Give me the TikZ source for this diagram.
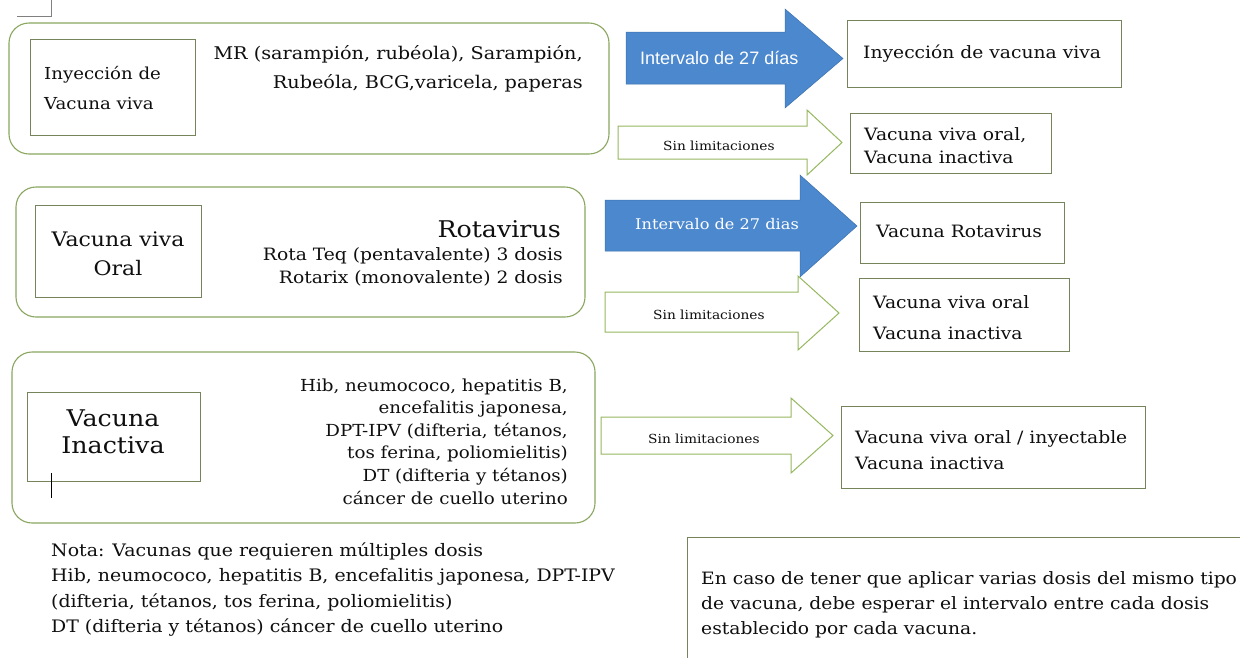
\documentclass[tikz,border=0pt]{standalone}
\usepackage{fontspec}
\setmainfont{DejaVu Serif}[FakeStretch=1.1]
\newfontfamily\arrowsans{Liberation Sans}
\usepackage{tikz}
\definecolor{panelgreen}{RGB}{138,166,96}
\definecolor{boxgreen}{RGB}{118,132,92}
\definecolor{arrowgreen}{RGB}{150,184,96}
\definecolor{arrowblue}{RGB}{76,136,206}
\definecolor{arrowedge}{RGB}{60,112,174}
\definecolor{ink}{RGB}{15,15,15}
\tikzset{
  panel/.style={draw=panelgreen, line width=1.1pt, rounded corners=20pt},
  tagbox/.style={draw=boxgreen, line width=0.9pt},
  bluearrow/.style={fill=arrowblue, draw=arrowedge, line width=0.5pt},
  whitearrow/.style={fill=white, draw=arrowgreen, line width=1pt},
  txt/.style={inner sep=0pt, text=ink}
}
\newcommand{\blockarrow}[8]{
    % Draw the arrow body and head
    \filldraw[#1] (#2,#5) -- (#3,#5) -- (#3,#7) -- (#4,{(#7+#8)/2}) -- (#3,#8) -- (#3,#6) -- (#2,#6) -- cycle;
}

\begin{document}
\begin{tikzpicture}[x=1pt, y=-1pt, font=\fontsize{17}{29}\selectfont]
  \useasboundingbox (0,0) rectangle (1240,657);
  \clip (0,0) rectangle (1240,657);
  \fill[white] (0,0) rectangle (1240,657);

  % Corner mark of the page
  \draw[gray, line width=0.6pt] (17,16) -- (51,16) -- (51,0);

  % Row 1: live injected vaccine
  \draw[panel] (9,23) rectangle (609,154);
  \draw[tagbox] (30,39) rectangle (195,135);
  \node[txt, anchor=west, align=left, font=\fontsize{16.5}{30}\selectfont] (inyviva) at (44,88) {Inyección de\\Vacuna viva};
  \node[txt, anchor=east, align=right, font=\fontsize{17.5}{29}\selectfont] (inylist) at (583,68.5) {MR (sarampión, rubéola), Sarampión,\\Rubeóla, BCG,varicela, paperas};

  \blockarrow{bluearrow}{626}{785}{843}{32}{84}{9}{108}
  \node[txt, anchor=west, text=white, font=\arrowsans\fontsize{18}{20}\selectfont] (int1) at (640,58) {Intervalo de 27 días};
  \draw[tagbox] (847,20) rectangle (1121,87);
  \node[txt, anchor=west] (inyres) at (863,54) {Inyección de vacuna viva};

  \blockarrow{whitearrow}{618}{807}{842}{126}{159}{110}{175}
  \node[txt, anchor=west, font=\fontsize{12.5}{14}\selectfont] (sin1) at (663,146) {Sin limitaciones};
  \draw[tagbox] (850,113) rectangle (1051,173);
  \node[txt, anchor=west, align=left, font=\fontsize{17}{23}\selectfont] (sinres1) at (864,146) {Vacuna viva oral,\\Vacuna inactiva};

  % Row 2: live oral vaccine
  \draw[panel] (16,187) rectangle (585,317);
  \draw[tagbox] (35,205) rectangle (201,297);
  \node[txt, align=center, font=\fontsize{20}{29}\selectfont] (oral) at (118,254) {Vacuna viva\\Oral};
  \node[txt, anchor=east, font=\fontsize{23}{26}\selectfont] (rota) at (561,229) {Rotavirus};
  \node[txt, anchor=east, align=right, font=\fontsize{17}{23}\selectfont] (rotalist) at (563,267) {Rota Teq (pentavalente) 3 dosis\\Rotarix (monovalente) 2 dosis};

  \blockarrow{bluearrow}{605}{800}{857}{200}{251}{175}{277}
  \node[txt, anchor=west, text=white, font=\fontsize{14.7}{16}\selectfont] (int2) at (635,224) {Intervalo de 27 dias};
  \draw[tagbox] (860,202) rectangle (1064,263);
  \node[txt, anchor=west] (rotares) at (876,231) {Vacuna Rotavirus};

  \blockarrow{whitearrow}{605}{798}{839}{292}{332}{276}{350}
  \node[txt, anchor=west, font=\fontsize{12.5}{14}\selectfont] (sin2) at (653,315) {Sin limitaciones};
  \draw[tagbox] (859,278) rectangle (1069,351);
  \node[txt, anchor=west, align=left, font=\fontsize{17}{31}\selectfont] (sinres2) at (873,318) {Vacuna viva oral\\Vacuna inactiva};

  % Row 3: inactivated vaccine
  \draw[panel] (12,352) rectangle (595,523);
  \draw[tagbox] (27,392) rectangle (200,481);
  \node[txt, align=center, font=\fontsize{23}{27}\selectfont] (inact) at (113,432) {Vacuna\\Inactiva};
  \draw[black, line width=0.8pt] (51,473) -- (51,498);
  \node[txt, anchor=east, align=right, font=\fontsize{16.6}{22.6}\selectfont] (inactlist) at (568,441.5) {Hib, neumococo, hepatitis B,\\encefalitis japonesa,\\DPT-IPV (difteria, tétanos,\\tos ferina, poliomielitis)\\DT (difteria y tétanos)\\cáncer de cuello uterino};

  \blockarrow{whitearrow}{601}{791}{833}{417}{454}{398}{473}
  \node[txt, anchor=west, font=\fontsize{12.5}{14}\selectfont] (sin3) at (648,439) {Sin limitaciones};
  \draw[tagbox] (841,406) rectangle (1145,488);
  \node[txt, anchor=west, align=left, font=\fontsize{17}{26}\selectfont] (sinres3) at (855,450) {Vacuna viva oral / inyectable\\Vacuna inactiva};

  % Notes at the bottom
  \node[txt, anchor=west, align=left, font=\fontsize{17.2}{25.6}\selectfont] (nota) at (51,589.5) {Nota: Vacunas que requieren múltiples dosis\\Hib, neumococo, hepatitis B, encefalitis japonesa, DPT-IPV\\(difteria, tétanos, tos ferina, poliomielitis)\\DT (difteria y tétanos) cáncer de cuello uterino};
  \draw[tagbox] (687,537) rectangle (1260,680);
  \node[txt, anchor=west, align=left, font=\fontsize{17}{25}\selectfont] (aviso) at (701,605) {En caso de tener que aplicar varias dosis del mismo tipo\\de vacuna, debe esperar el intervalo entre cada dosis\\establecido por cada vacuna.};
\end{tikzpicture}
\end{document}
